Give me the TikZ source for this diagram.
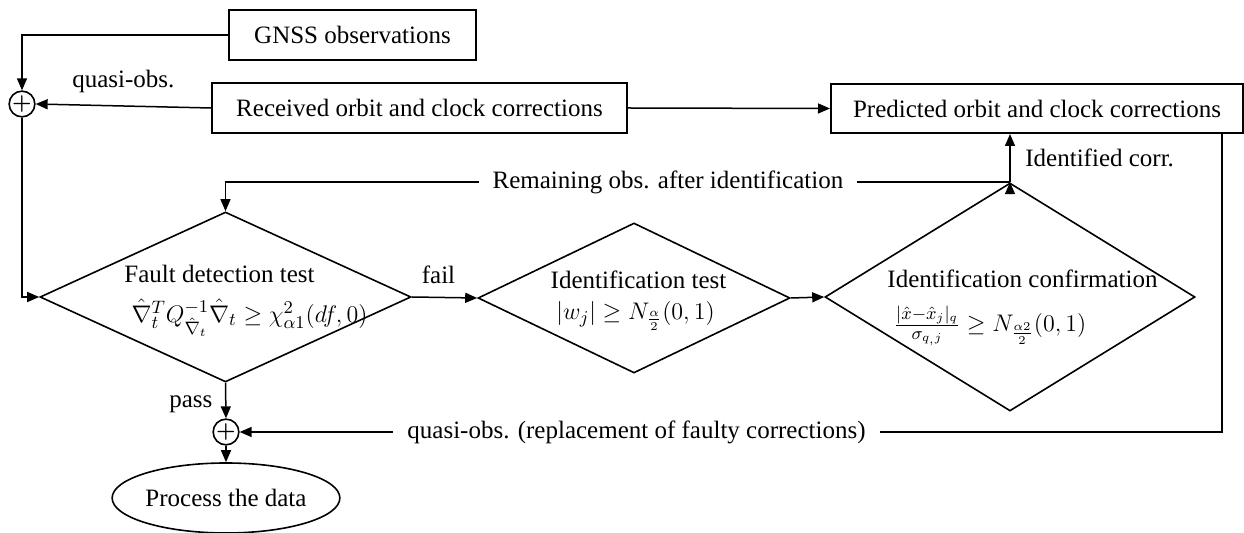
\documentclass[tikz,border=0pt]{standalone}
\usepackage{amsmath}
\usepackage{fontspec}
\setmainfont{Liberation Serif}
\usetikzlibrary{arrows.meta}
\usetikzlibrary{calc}
\usetikzlibrary{shapes.geometric}

\begin{document}
\begin{tikzpicture}[x=0.5pt,y=-0.5pt,
    font=\fontsize{12.5}{15}\selectfont,
    box/.style={draw,line width=1pt,rectangle,inner sep=0pt},
    test/.style={draw,line width=0.8pt,diamond,inner sep=0pt},
    adder/.style={draw,line width=0.8pt,circle,inner sep=0pt,minimum size=11pt,font=\fontsize{11}{11}\selectfont\boldmath},
    txt/.style={inner sep=0pt,align=center},
    gap/.style={fill=white,inner xsep=7pt,inner ysep=1pt},
    >={Triangle[length=6pt,width=5pt]}]

  \useasboundingbox (0,0) rectangle (1244,533);

  \node [box,minimum width=123.5pt,minimum height=25pt] (gnss) at (352.5,35) {GNSS observations};
  \node [box,minimum width=207.5pt,minimum height=25pt] (recv) at (419.5,108) {Received orbit and clock corrections};
  \node [box,minimum width=206pt,minimum height=24.5pt] (pred) at (1037,108.5) {Predicted orbit and clock corrections};
  \node [adder] (sum1) at (22,104) {$+$};

  \node [test,minimum width=185.5pt,minimum height=85pt] (detect) at (225.5,297) {};
  \node [txt] (detect_t) at (219.5,274) {Fault detection test};
  \node [txt] (detect_e) at (249.5,318) {$\hat{\nabla}_t^T Q_{\hat{\nabla}_t}^{-1}\hat{\nabla}_t \geq \chi^2_{\alpha 1}(df,0)$};

  \node [test,minimum width=156pt,minimum height=75pt] (ident) at (634,298) {};
  \node [txt] (ident_t) at (638.5,280) {Identification test};
  \node [txt] (ident_e) at (635.5,316) {$|w_j| \geq N_{\frac{\alpha}{2}}(0,1)$};

  \node [test,minimum width=185pt,minimum height=114pt] (confirm) at (1010,297) {};
  \node [txt] (confirm_t) at (1022.5,279) {Identification confirmation};
  \node [txt] (confirm_e) at (990,326) {$\frac{|\hat{x}-\hat{x}_j|_q}{\sigma_{q_{,}j}} \geq N_{\frac{\alpha 2}{2}}(0,1)$};

  \node [adder] (sum2) at (226,432) {$+$};
  \node [draw,line width=0.8pt,ellipse,minimum width=112.5pt,minimum height=35pt,inner sep=0pt] (proc) at (226,498) {Process the data};

  \coordinate (fback) at ($(pred.south east)+(-22,0)$);

  \path [draw,line width=0.75pt,->]
    (gnss.west)    -| (sum1.north);
  \path [draw,line width=0.75pt,->]
    (recv.west)    edge node [above=3pt] {quasi-obs.} (sum1.east)
    (recv.east)    edge (pred.west)
    (detect.east)  edge node [above=3pt,xshift=-3pt] {fail} (ident.west)
    (ident.east)   edge (confirm.west)
    (detect.south) edge node [left=3pt,yshift=-2pt] {pass} (sum2.north)
    (sum2.south)   edge (proc.north)
    (confirm.north) edge node [right=4pt] {Identified corr.} (confirm.north |- pred.south);
  \path [draw,line width=0.75pt,->]
    (sum1.south)   |- (detect.west);
  \path [draw,line width=0.75pt,->]
    (confirm.north) -| node [gap,pos=0.218] {Remaining obs. after identification} (detect.north);
  \path [draw,line width=0.75pt,->]
    (fback) |- node [gap,pos=0.798] {quasi-obs. (replacement of faulty corrections)} (sum2.east);

\end{tikzpicture}
\end{document}
